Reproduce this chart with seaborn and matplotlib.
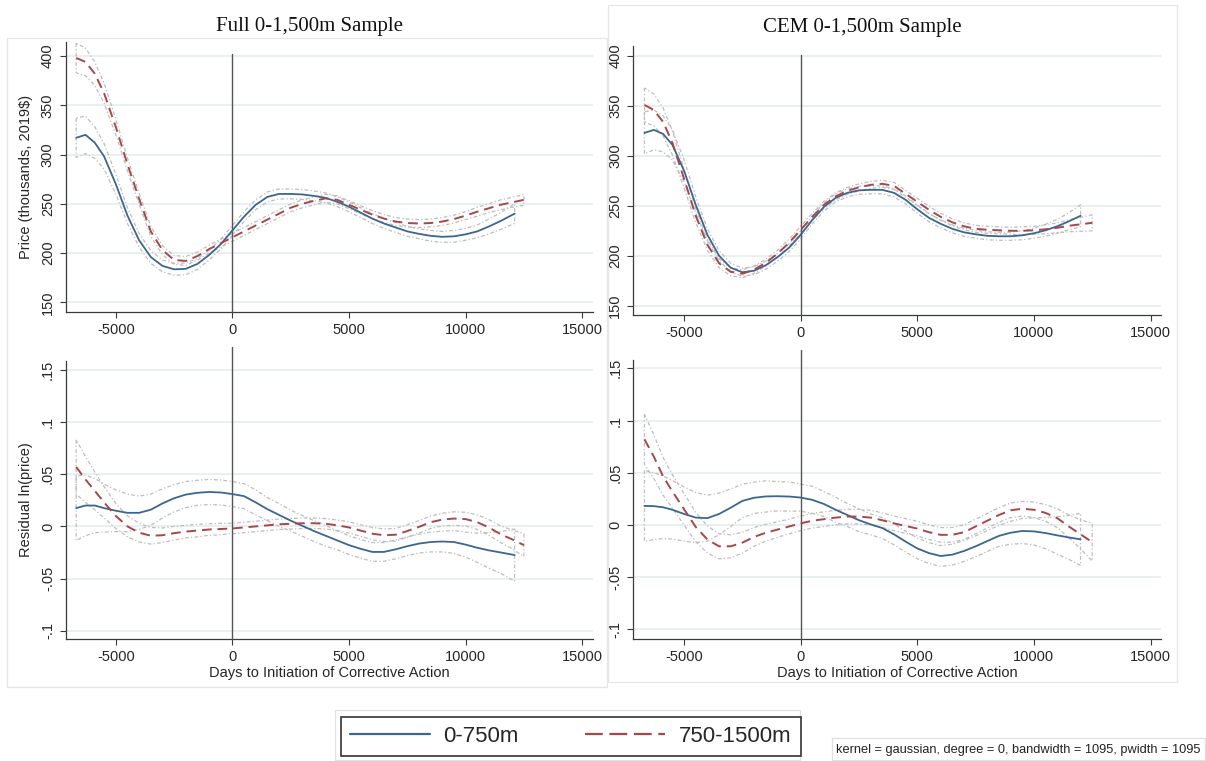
import numpy as np
import matplotlib
matplotlib.use("Agg")
import matplotlib.pyplot as plt
from matplotlib.lines import Line2D
from matplotlib.patches import Rectangle
import seaborn as sns

# ---------------------------------------------------------------- data
# days relative to initiation of corrective action
days_full_near = [-6700, -6300, -5900, -5500, -5000, -4500, -4000, -3500, -3000, -2500,
                  -2000, -1500, -1000, -500, 0, 500, 1000, 1500, 2000, 2500,
                  3000, 3500, 4000, 4500, 5000, 5500, 6000, 6500, 7000, 7500,
                  8000, 8500, 9000, 9500, 10000, 10500, 11000, 11500, 12100]
days_cem_near = [-6700, -6300, -5900, -5500, -5000, -4500, -4000, -3500, -3000, -2500,
                 -2000, -1500, -1000, -500, 0, 500, 1000, 1500, 2000, 2500,
                 3000, 3500, 4000, 4500, 5000, 5500, 6000, 6500, 7000, 7500,
                 8000, 8500, 9000, 9500, 10000, 10500, 11000, 11500, 12000]
days_far = [-6700, -6300, -5900, -5500, -5000, -4500, -4000, -3500, -3000, -2500,
            -2000, -1500, -1000, -500, 0, 500, 1000, 1500, 2000, 2500,
            3000, 3500, 4000, 4500, 5000, 5500, 6000, 6500, 7000, 7500,
            8000, 8500, 9000, 9500, 10000, 10500, 11000, 11500, 12000, 12500]

# Full sample, price (thousands, 2019$)
full_price_near = [317, 320, 312, 298, 270, 238, 213, 196, 187, 183.5,
                   184, 189, 198, 209, 223, 237, 249, 257, 260, 260,
                   259.5, 258, 256, 252, 247, 241, 235, 230, 226, 222,
                   219.5, 217.5, 216.5, 217, 219, 222, 227, 232.5, 240]
full_price_near_hw = [20, 19, 16, 13, 10, 8, 7, 6.5, 6, 6,
                      6, 5.5, 5, 5, 5, 5, 5, 5, 5, 5,
                      5, 5, 5, 5, 5, 5, 5, 5, 5, 5,
                      5, 5.5, 5.5, 6, 6, 6.5, 7.5, 8.5, 10]
full_price_far = [398, 394, 382, 362, 328, 290, 255, 222, 203, 193,
                  192, 197, 204, 210, 216, 222, 228, 234, 240, 246,
                  250, 253, 255.5, 254, 249, 244, 239, 235, 232, 230.5,
                  230, 230.5, 232, 234.5, 238, 242, 245.5, 249, 251.5, 254]
full_price_far_hw = [15, 14, 12, 10, 8, 6.5, 5.5, 5, 4.5, 4.5,
                     4.5, 4, 4, 4, 4, 4, 4, 4, 4, 4,
                     4, 4, 4, 4, 4, 4, 4, 4, 4, 4,
                     4, 4, 4, 4, 4, 4.5, 4.5, 5, 5, 5.5]

# CEM sample, price (thousands, 2019$)
cem_price_near = [323, 326, 322, 311, 285, 251, 221, 200, 188, 183.5,
                  185, 190.5, 198.5, 208, 221, 236, 249, 258, 263, 265.5,
                  266, 266, 263, 256, 246.5, 238, 232, 227, 223.5, 221.5,
                  220, 219.5, 219.5, 220.5, 222.5, 225.5, 229.5, 234.5, 240]
cem_price_near_hw = [21, 20, 18, 15, 11, 8, 6, 5, 4.5, 4,
                     4, 4, 4, 4, 4, 4, 4, 4, 4, 4,
                     4, 4, 4, 4, 4, 4, 4, 4, 4, 4,
                     4, 4, 4, 4.5, 5, 6, 7, 8.5, 11]
cem_price_far = [351, 346, 334, 313, 277, 240, 211, 192.5, 184, 182,
                 186, 193, 202, 213, 226, 239, 251, 259.5, 265, 268.5,
                 271, 272, 270, 262, 254, 246, 239, 233.5, 229.5, 227,
                 226, 225.5, 225, 225, 225.5, 226.5, 228, 230, 231.5, 233]
cem_price_far_hw = [17, 16, 14, 12, 9, 7, 5.5, 4.5, 4, 4,
                    3.5, 3.5, 3.5, 3.5, 3.5, 3.5, 3.5, 3.5, 3.5, 3.5,
                    3.5, 3.5, 3.5, 3.5, 3.5, 3.5, 3.5, 3.5, 3.5, 3.5,
                    3.5, 3.5, 3.5, 4, 4, 4.5, 5, 6, 7, 8]

# Full sample, residual ln(price)
full_resid_near = [0.0175, 0.020, 0.020, 0.0175, 0.015, 0.013, 0.013, 0.016, 0.022, 0.027,
                   0.0305, 0.0322, 0.033, 0.0325, 0.031, 0.029, 0.023, 0.0165, 0.011, 0.0055,
                   0.0005, -0.0045, -0.009, -0.0135, -0.018, -0.0215, -0.0245, -0.0245, -0.022, -0.019,
                   -0.0165, -0.015, -0.0145, -0.015, -0.0175, -0.0205, -0.023, -0.025, -0.0275]
full_resid_near_hw = [0.031, 0.029, 0.026, 0.023, 0.020, 0.018, 0.016, 0.015, 0.014, 0.013,
                      0.0125, 0.012, 0.012, 0.012, 0.012, 0.012, 0.012, 0.011, 0.011, 0.010,
                      0.010, 0.010, 0.010, 0.009, 0.009, 0.009, 0.009, 0.009, 0.009, 0.009,
                      0.009, 0.0095, 0.010, 0.011, 0.012, 0.014, 0.017, 0.020, 0.025]
full_resid_far = [0.057, 0.045, 0.034, 0.023, 0.010, 0.000, -0.006, -0.009, -0.0085, -0.0065,
                  -0.005, -0.004, -0.003, -0.0025, -0.002, -0.001, 0.000, 0.001, 0.002, 0.0025,
                  0.003, 0.003, 0.0025, 0.001, -0.001, -0.004, -0.007, -0.0085, -0.008, -0.0045,
                  -0.0005, 0.004, 0.0065, 0.0075, 0.007, 0.004, -0.001, -0.0075, -0.0125, -0.018]
full_resid_far_hw = [0.026, 0.022, 0.018, 0.015, 0.012, 0.010, 0.009, 0.008, 0.007, 0.0065,
                     0.006, 0.006, 0.0055, 0.0055, 0.005, 0.005, 0.005, 0.005, 0.005, 0.005,
                     0.005, 0.005, 0.005, 0.005, 0.0055, 0.0055, 0.006, 0.006, 0.006, 0.006,
                     0.006, 0.006, 0.006, 0.0065, 0.0065, 0.007, 0.0075, 0.008, 0.009, 0.011]

# CEM sample, residual ln(price)
cem_resid_near = [0.0182, 0.0180, 0.0169, 0.0145, 0.0105, 0.0070, 0.0065, 0.0105, 0.0165, 0.0230,
                  0.0260, 0.0273, 0.0275, 0.0272, 0.0262, 0.0240, 0.0200, 0.0145, 0.0095, 0.0045,
                  0.0005, -0.0030, -0.0090, -0.0160, -0.0225, -0.0270, -0.0298, -0.0285, -0.0250, -0.0205,
                  -0.0155, -0.0105, -0.0075, -0.0058, -0.0062, -0.0078, -0.0100, -0.0120, -0.0138]
cem_resid_near_hw = [0.034, 0.032, 0.030, 0.028, 0.026, 0.024, 0.022, 0.020, 0.018, 0.016,
                     0.015, 0.015, 0.014, 0.014, 0.013, 0.013, 0.012, 0.012, 0.011, 0.011,
                     0.010, 0.010, 0.010, 0.010, 0.010, 0.010, 0.010, 0.010, 0.010, 0.010,
                     0.010, 0.010, 0.011, 0.012, 0.013, 0.015, 0.018, 0.021, 0.025]
cem_resid_far = [0.082, 0.0655, 0.0465, 0.032, 0.015, -0.002, -0.014, -0.0205, -0.0205, -0.017,
                 -0.0115, -0.0075, -0.0045, -0.0015, 0.0015, 0.004, 0.0055, 0.007, 0.008, 0.008,
                 0.007, 0.0045, 0.0015, -0.001, -0.0035, -0.007, -0.0095, -0.0095, -0.007, -0.0015,
                 0.004, 0.0095, 0.014, 0.0155, 0.0145, 0.0115, 0.0065, -0.0015, -0.009, -0.0165]
cem_resid_far_hw = [0.024, 0.021, 0.018, 0.016, 0.015, 0.014, 0.013, 0.012, 0.011, 0.010,
                    0.009, 0.008, 0.0075, 0.007, 0.007, 0.007, 0.007, 0.007, 0.007, 0.007,
                    0.007, 0.007, 0.007, 0.007, 0.007, 0.007, 0.007, 0.007, 0.007, 0.007,
                    0.007, 0.007, 0.007, 0.007, 0.0075, 0.008, 0.009, 0.011, 0.014, 0.018]

series_labels = ["0-750m", "750-1500m"]
panel_titles = ["Full 0-1,500m Sample", "CEM 0-1,500m Sample"]
x_ticks = [-5000, 0, 5000, 10000, 15000]
x_tick_labels = ["-5000", "0", "5000", "10000", "15000"]
price_ticks = [150, 200, 250, 300, 350, 400]
price_tick_labels = ["150", "200", "250", "300", "350", "400"]
resid_ticks = [-0.1, -0.05, 0, 0.05, 0.1, 0.15]
resid_tick_labels = ["-.1", "-.05", "0", ".05", ".1", ".15"]
price_label = "Price (thousands, 2019$)"
resid_label = "Residual ln(price)"
x_label = "Days to Initiation of Corrective Action"
note_text = "kernel = gaussian, degree = 0, bandwidth = 1095, pwidth = 1095"

# ---------------------------------------------------------------- style
NEAR_COLOR = "#3B6690"
FAR_COLOR = "#A6474A"
CI_COLOR = "#BDBDBD"
GRID_COLOR = "#E2ECEE"
AXIS_COLOR = "#3A3A3A"
FAR_DASH = (0, (5, 3))
LEGEND_DASH = (0, (8, 3))
CI_DASH = (0, (3, 1.8, 1, 1.8))

sns.set_theme(style="white")
plt.rcParams["font.family"] = ["Liberation Sans", "DejaVu Sans"]

W, H = 1206, 761
fig = plt.figure(figsize=(W / 100, H / 100), dpi=100)


def px_axes(left, top, right, bottom):
    return fig.add_axes([left / W, 1 - bottom / H, (right - left) / W, (bottom - top) / H])


def px_rect(left, top, right, bottom, **kw):
    r = Rectangle((left / W, 1 - bottom / H), (right - left) / W, (bottom - top) / H,
                  transform=fig.transFigure, fill=False, **kw)
    fig.add_artist(r)


def draw_panel(ax, near_days, near, near_hw, far, far_hw, xlim, ylim, yticks, yticklabels, vtop):
    for d, v, hw in ((near_days, near, near_hw), (days_far, far, far_hw)):
        v = np.asarray(v, dtype=float)
        hw = np.asarray(hw, dtype=float)
        ax.fill_between(d, v - hw, v + hw, facecolor="none", edgecolor=CI_COLOR,
                        linestyle=CI_DASH, linewidth=0.9, zorder=2)
    sns.lineplot(x=near_days, y=near, ax=ax, color=NEAR_COLOR, linewidth=1.3,
                 errorbar=None, zorder=4)
    sns.lineplot(x=days_far, y=far, ax=ax, color=FAR_COLOR, linewidth=1.4,
                 linestyle=FAR_DASH, errorbar=None, zorder=4)
    ax.axvline(0, ymin=0, ymax=vtop, color="#555555", linewidth=1.0, clip_on=False, zorder=3)

    ax.set_xlim(*xlim)
    ax.set_ylim(*ylim)
    ax.set_xticks(x_ticks)
    ax.set_xticklabels(x_tick_labels)
    ax.set_yticks(yticks)
    ax.set_yticklabels(yticklabels, rotation=90, va="center")
    ax.yaxis.grid(True, color=GRID_COLOR, linewidth=1.1)
    ax.xaxis.grid(False)
    ax.set_axisbelow(True)
    for s in ("top", "right"):
        ax.spines[s].set_visible(False)
    for s in ("left", "bottom"):
        ax.spines[s].set_color(AXIS_COLOR)
        ax.spines[s].set_linewidth(0.9)
    ax.tick_params(axis="both", which="major", direction="out", length=4, width=0.8,
                   color=AXIS_COLOR, labelsize=10.5, labelcolor="#262626", pad=4,
                   left=True, bottom=True)
    ax.set_xlabel("")
    ax.set_ylabel("")
    ax.set_facecolor("white")


# faint frames around the two columns
px_rect(7, 38, 607, 687, edgecolor="#E6E6E6", linewidth=0.9)
px_rect(608, 5, 1177, 682, edgecolor="#E6E6E6", linewidth=0.9)

ax_tl = px_axes(66, 42, 593, 311.7)
ax_tr = px_axes(633.3, 45.7, 1161, 315)
ax_bl = px_axes(66, 361, 593, 639)
ax_br = px_axes(633.3, 360, 1161, 639)

draw_panel(ax_tl, days_full_near, full_price_near, full_price_near_hw,
           full_price_far, full_price_far_hw,
           (-7136, 15463), (140.5, 414.2), price_ticks, price_tick_labels, 0.955)
draw_panel(ax_tr, days_cem_near, cem_price_near, cem_price_near_hw,
           cem_price_far, cem_price_far_hw,
           (-7178, 15450), (140.7, 410.3), price_ticks, price_tick_labels, 0.965)
draw_panel(ax_bl, days_full_near, full_resid_near, full_resid_near_hw,
           full_resid_far, full_resid_far_hw,
           (-7136, 15463), (-0.108, 0.1586), resid_ticks, resid_tick_labels, 1.05)
draw_panel(ax_br, days_cem_near, cem_resid_near, cem_resid_near_hw,
           cem_resid_far, cem_resid_far_hw,
           (-7178, 15450), (-0.1093, 0.158), resid_ticks, resid_tick_labels, 1.036)

ax_tl.set_ylabel(price_label, fontsize=10.5, color="#262626")
ax_tl.yaxis.set_label_coords(-0.063, 0.5)
ax_bl.set_ylabel(resid_label, fontsize=10.5, color="#262626")
ax_bl.yaxis.set_label_coords(-0.063, 0.5)
for ax in (ax_bl, ax_br):
    ax.set_xlabel(x_label, fontsize=10.5, color="#262626")
    ax.xaxis.set_label_coords(0.5, -0.122)
    ax.xaxis.label.set_va("center")

# column titles
fig.text(309 / W, 1 - 26 / H, panel_titles[0], ha="center", va="center",
         fontsize=15, family=["Liberation Serif", "DejaVu Serif"], color="#111111")
fig.text(862 / W, 1 - 27.5 / H, panel_titles[1], ha="center", va="center",
         fontsize=15, family=["Liberation Serif", "DejaVu Serif"], color="#111111")

# legend
px_rect(335, 710, 800, 760, edgecolor="#E0E0E0", linewidth=0.9)
handles = [Line2D([], [], color=NEAR_COLOR, linewidth=1.6),
           Line2D([], [], color=FAR_COLOR, linewidth=1.6, linestyle=LEGEND_DASH)]
leg = fig.legend(handles, series_labels, loc="center",
                 bbox_to_anchor=(570.5 / W, 1 - 736.5 / H),
                 ncol=2, frameon=True, fancybox=False, edgecolor="#333333", fontsize=16,
                 handlelength=3.6, handletextpad=0.6, columnspacing=3.0, borderpad=0.42,
                 borderaxespad=0.0, framealpha=1)
leg.get_frame().set_linewidth(1.2)

# kernel note
px_rect(832, 738, 1205, 760, edgecolor="#E0E0E0", linewidth=0.9)
fig.text(836 / W, 1 - 749.5 / H, note_text, ha="left", va="center", fontsize=9.2,
         color="#222222")

fig.savefig("out.png", dpi=100, facecolor="white")
